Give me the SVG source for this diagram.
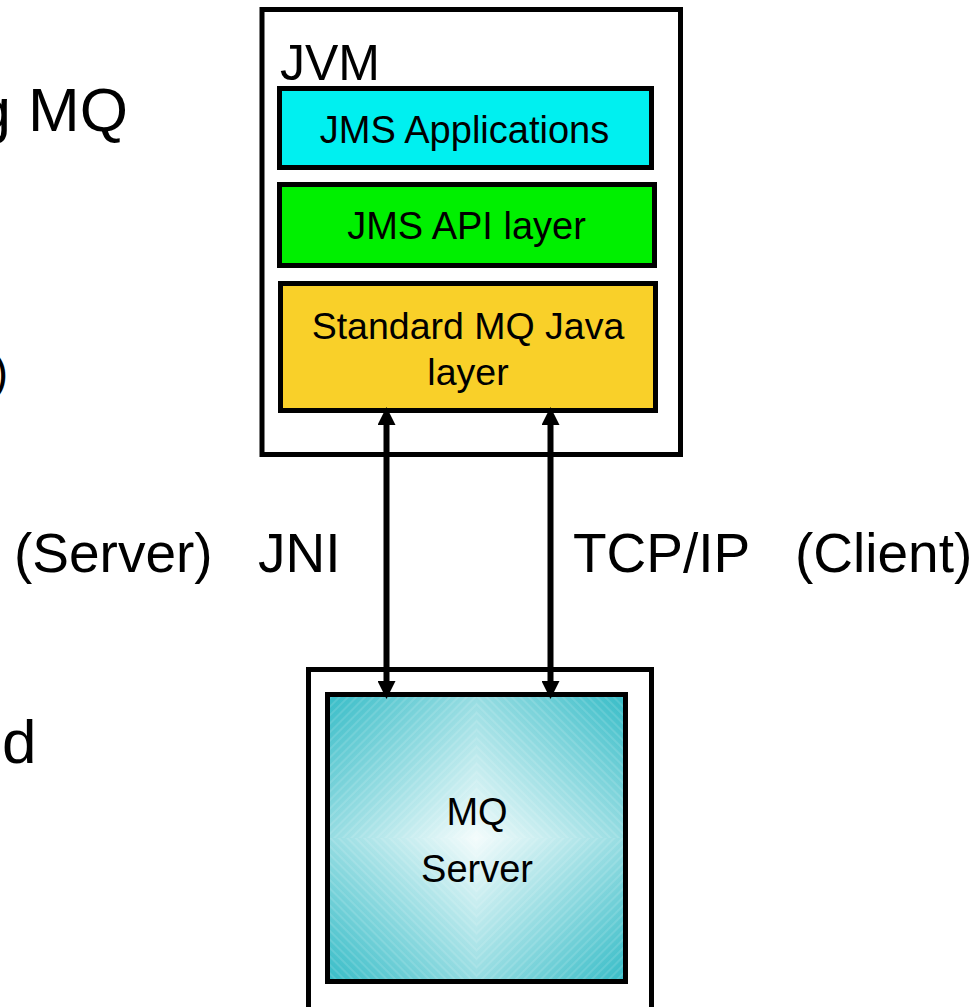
<svg xmlns="http://www.w3.org/2000/svg" width="978" height="1007" viewBox="0 0 978 1007">
<style>
text{font-family:"Liberation Sans",Arial,sans-serif;fill:#000}
.box{stroke:#000;stroke-width:5}
.outer{fill:#fff;stroke:#000;stroke-width:5}
.lbl{font-size:38px;text-anchor:middle}
.big{font-size:55px}
.side{font-size:62px}
.conn{stroke:#000;stroke-width:6;fill:none}
</style>
<defs>
<marker id="ah" viewBox="0 0 18 18" refX="7" refY="9" markerWidth="18" markerHeight="18" markerUnits="userSpaceOnUse" orient="auto-start-reverse">
<path d="M0,0 L18,9 L0,18 z" fill="#000"/>
</marker>
<linearGradient id="gTL" x1="0" y1="0" x2="1" y2="1"><stop offset="0" stop-color="#36BCC7"/><stop offset="1" stop-color="#F4FCFC"/></linearGradient>
<linearGradient id="gTR" x1="1" y1="0" x2="0" y2="1"><stop offset="0" stop-color="#36BCC7"/><stop offset="1" stop-color="#F4FCFC"/></linearGradient>
<linearGradient id="gBL" x1="0" y1="1" x2="1" y2="0"><stop offset="0" stop-color="#36BCC7"/><stop offset="1" stop-color="#F4FCFC"/></linearGradient>
<linearGradient id="gBR" x1="1" y1="1" x2="0" y2="0"><stop offset="0" stop-color="#36BCC7"/><stop offset="1" stop-color="#F4FCFC"/></linearGradient>
<pattern id="s1" width="6" height="6" patternUnits="userSpaceOnUse" patternTransform="rotate(45)"><rect width="2" height="6" fill="#fff" fill-opacity="0.12"/></pattern>
<pattern id="s2" width="6" height="6" patternUnits="userSpaceOnUse" patternTransform="rotate(-45)"><rect width="2" height="6" fill="#fff" fill-opacity="0.12"/></pattern>
</defs>

<g id="side-text">
<text class="side" x="128" y="131" text-anchor="end">g MQ</text>
<text x="8" y="388" text-anchor="end" style="font-size:46px">)</text>
<text class="side" x="2" y="763">d</text>
</g>

<g id="jvm">
<rect class="outer" x="262" y="9.5" width="418.5" height="445"/>
<text x="280" y="80" style="font-size:50px">JVM</text>
</g>

<g id="jms-applications">
<rect class="box" x="279.5" y="88.5" width="372" height="79" fill="#00F0F0"/>
<text class="lbl" x="464.5" y="143">JMS Applications</text>
</g>

<g id="jms-api">
<rect class="box" x="279.5" y="184.5" width="375" height="81" fill="#00F000"/>
<text class="lbl" x="466.5" y="239">JMS API layer</text>
</g>

<g id="mq-java">
<rect class="box" x="280.5" y="283.5" width="375" height="127" fill="#F9D029"/>
<text class="lbl" x="468" y="339" style="font-size:37.5px">Standard MQ Java</text>
<text class="lbl" x="468" y="385" style="font-size:37.5px">layer</text>
</g>

<g id="mq-server">
<rect class="outer" x="308.5" y="669.5" width="343" height="400"/>
<rect x="327.5" y="694.5" width="149" height="143.5" fill="url(#gTL)"/>
<rect x="327.5" y="838" width="149" height="143.5" fill="url(#gBL)"/>
<rect x="476" y="694.5" width="149.5" height="143.5" fill="url(#gTR)"/>
<rect x="476" y="837.5" width="149.5" height="144" fill="url(#gBR)"/>
<rect x="327.5" y="694.5" width="149" height="143.5" fill="url(#s1)"/>
<rect x="476.5" y="694.5" width="149" height="143.5" fill="url(#s2)"/>
<rect x="327.5" y="838" width="149" height="143.5" fill="url(#s2)"/>
<rect x="476.5" y="838" width="149" height="143.5" fill="url(#s1)"/>
<rect class="box" x="327.5" y="694.5" width="298" height="287" fill="none"/>
<text class="lbl" x="477" y="825">MQ</text>
<text class="lbl" x="477" y="882">Server</text>
</g>

<g id="connectors">
<line class="conn" x1="386.5" y1="418" x2="386.5" y2="688" marker-start="url(#ah)" marker-end="url(#ah)"/>
<line class="conn" x1="550.5" y1="418" x2="550.5" y2="688" marker-start="url(#ah)" marker-end="url(#ah)"/>
</g>

<g id="labels">
<text class="big" x="14" y="572">(Server)</text>
<text class="big" x="258" y="572">JNI</text>
<text class="big" x="573" y="572">TCP/IP</text>
<text class="big" x="795" y="572">(Client)</text>
</g>
</svg>
